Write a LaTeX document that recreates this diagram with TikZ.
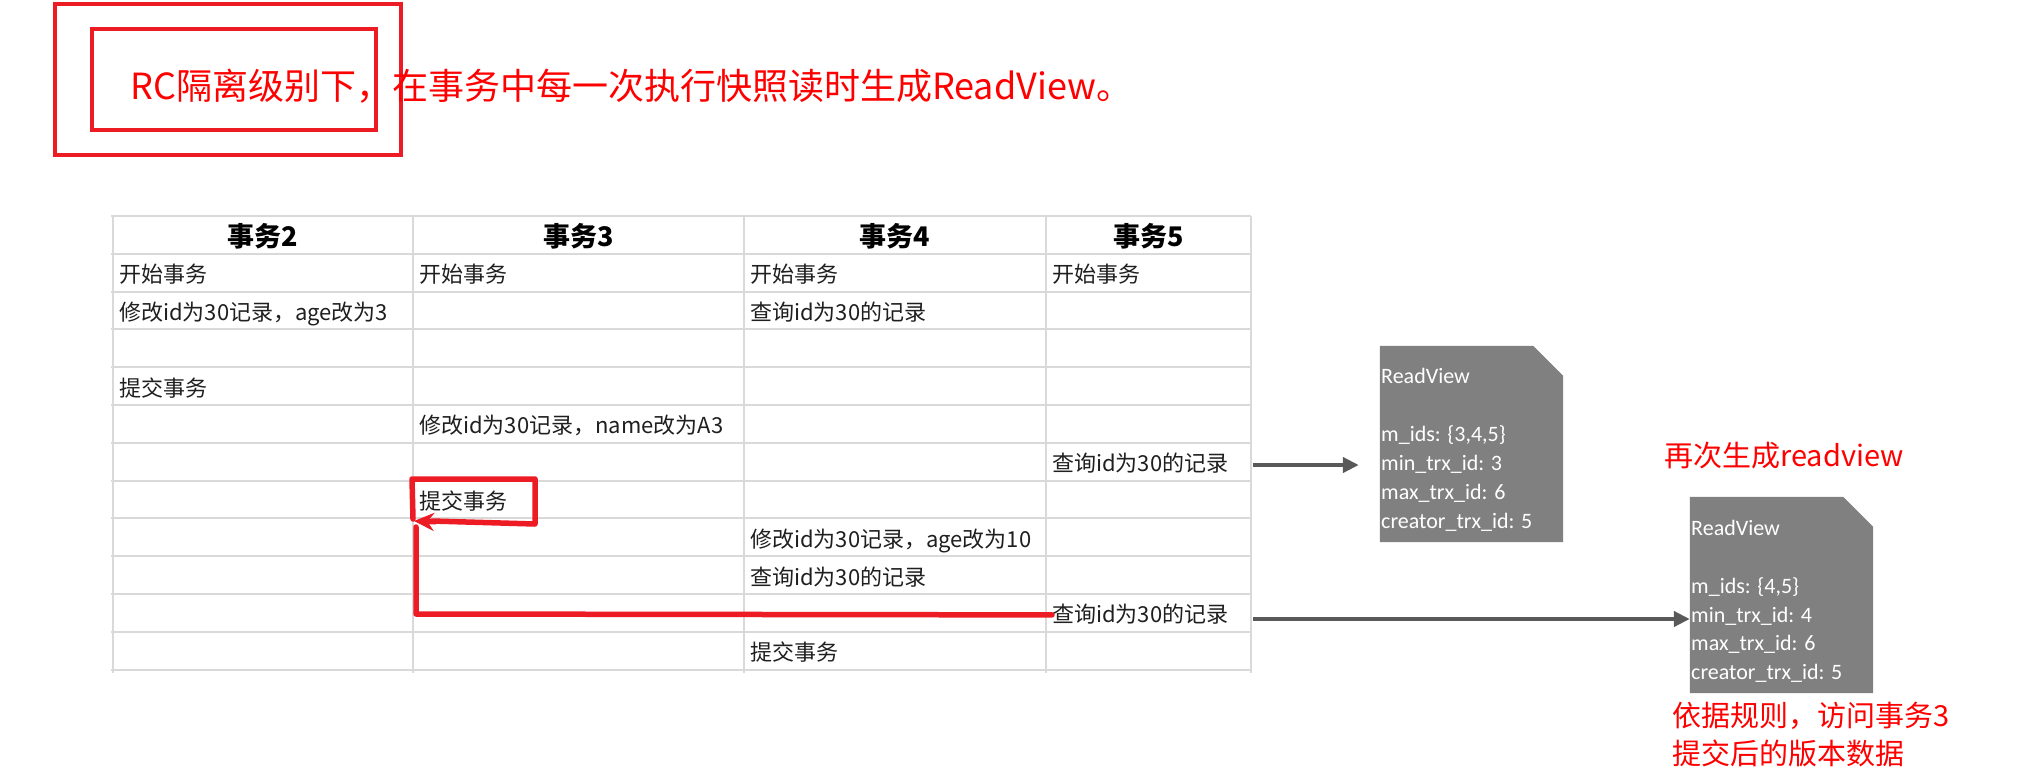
\documentclass[tikz,border=0pt]{standalone}
\usepackage{fontspec}
\newfontfamily\cjk{Noto Sans CJK SC}
\newfontfamily\calfont{Carlito}
\usetikzlibrary{arrows.meta,calc}
\definecolor{gridc}{HTML}{D9D9D9}
\definecolor{pred}{HTML}{ED1C24}
\definecolor{tred}{HTML}{FF0000}
\definecolor{boxg}{HTML}{808080}
\definecolor{arrg}{HTML}{595959}
\begin{document}
\begin{tikzpicture}[x=1pt,y=-1pt,
  cell/.style={anchor=west,inner sep=0pt,font=\cjk\fontsize{22}{26}\selectfont,text=black!88,text height=16pt,text depth=0pt},
  head/.style={inner sep=0pt,font=\cjk\bfseries\fontsize{27}{30}\selectfont,text=black,text height=20pt,text depth=0pt},
  rvtext/.style={anchor=west,inner sep=0pt,font=\calfont\fontsize{22}{26}\selectfont,text=white,text height=14pt,text depth=0pt},
  note/.style={anchor=west,inner sep=0pt,font=\cjk\fontsize{29}{34}\selectfont,text=tred,text height=22pt,text depth=0pt},
  garrow/.style={draw=arrg,line width=4pt,-{Triangle[length=16pt,width=15pt]}},
  redline/.style={draw=pred,line width=5.5pt,line join=round,line cap=round},
  gridline/.style={draw=gridc,line width=2pt},
  rvbox/.style={minimum width=183pt,minimum height=196pt,inner sep=0pt}
]
\useasboundingbox[fill=white] (0,0) rectangle (2034,774);

% title
\draw[pred,line width=3.5pt] (55,4) rectangle (401,155);
\draw[pred,line width=3.5pt] (92,29) rectangle (376,130);
\node[anchor=west,inner sep=0pt,font=\cjk\fontsize{36}{40}\selectfont,text=tred,text height=27pt,text depth=0pt] (title) at (130,86) {RC隔离级别下，在事务中每一次执行快照读时生成ReadView。};

% grid
\foreach \k in {0,...,12}{
  \pgfmathsetmacro{\yy}{216+37.8*\k}
  \draw[gridline] (111,\yy) -- (1251,\yy);
}
\foreach \xx in {113,413,744,1046,1251}{
  \draw[gridline] (\xx,216) -- (\xx,673);
}

% header
\node[head] (h2) at (263,236.5) {事务2};
\node[head] (h3) at (578.5,236.5) {事务3};
\node[head] (h4) at (895,236.5) {事务4};
\node[head] (h5) at (1148.5,236.5) {事务5};

% cells
\node[cell] (c2r1) at (119,274.7) {开始事务};
\node[cell] (c3r1) at (419,274.7) {开始事务};
\node[cell] (c4r1) at (750,274.7) {开始事务};
\node[cell] (c5r1) at (1052,274.7) {开始事务};
\node[cell] (c2r2) at (119,312.5) {修改id为30记录，age改为3};
\node[cell] (c4r2) at (750,312.5) {查询id为30的记录};
\node[cell] (c2r4) at (119,388.1) {提交事务};
\node[cell] (c3r5) at (419,425.9) {修改id为30记录，name改为A3};
\node[cell] (q6) at (1052,463.7) {查询id为30的记录};
\node[cell] (c3r7) at (419,501.5) {提交事务};
\node[cell] (c4r8) at (750,539.3) {修改id为30记录，age改为10};
\node[cell] (c4r9) at (750,577.1) {查询id为30的记录};
\node[cell] (q10) at (1052,614.9) {查询id为30的记录};
\node[cell] (c4r11) at (750,652.7) {提交事务};

% red highlight and arrow
\draw[redline] (413,519) -- (412,479) -- (535,479) -- (535,524) -- (432,521);
\coordinate (rc) at (416,614);
\coordinate (rtop) at (416,527);
\coordinate (tipstart) at (436,522);
\coordinate (tip) at (414,521);
\draw[redline] (q10.west) -- (rc) -- (rtop);
\draw[draw=pred,line width=5pt,-{Stealth[length=20pt,width=18pt]}] (tipstart) -- (tip);

% ReadView boxes
\node[rvbox] (rv1) at (1471.5,444) {};
\fill[boxg] (rv1.south west) -- (rv1.north west) -- ($(rv1.north east)+(-30,0)$) -- ($(rv1.north east)+(0,30)$) -- (rv1.south east) -- cycle;
\node[rvtext] (rv1a) at (1381,376) {ReadView};
\node[rvtext] (rv1b) at (1381,434) {m\_ids: \{3,4,5\}};
\node[rvtext] (rv1c) at (1381,463) {min\_trx\_id: 3};
\node[rvtext] (rv1d) at (1381,492) {max\_trx\_id: 6};
\node[rvtext] (rv1e) at (1381,521) {creator\_trx\_id: 5};

\node[rvbox] (rv2) at (1781.5,595) {};
\fill[boxg] (rv2.south west) -- (rv2.north west) -- ($(rv2.north east)+(-30,0)$) -- ($(rv2.north east)+(0,30)$) -- (rv2.south east) -- cycle;
\node[rvtext] (rv2a) at (1691,528) {ReadView};
\node[rvtext] (rv2b) at (1691,586) {m\_ids: \{4,5\}};
\node[rvtext] (rv2c) at (1691,615) {min\_trx\_id: 4};
\node[rvtext] (rv2d) at (1691,643) {max\_trx\_id: 6};
\node[rvtext] (rv2e) at (1691,672) {creator\_trx\_id: 5};

% gray arrows
\coordinate (a1s) at (1253,465);
\coordinate (a2s) at (1253,619);
\draw[garrow,shorten >=21pt] (a1s) -- (a1s -| rv1.west);
\draw[garrow] (a2s) -- (a2s -| rv2.west);

% notes
\node[note] (n1) at (1664,455) {再次生成readview};
\node[note] (n2) at (1672,715) {依据规则，访问事务3};
\node[note] (n3) at (1672,753) {提交后的版本数据};
\end{tikzpicture}
\end{document}
